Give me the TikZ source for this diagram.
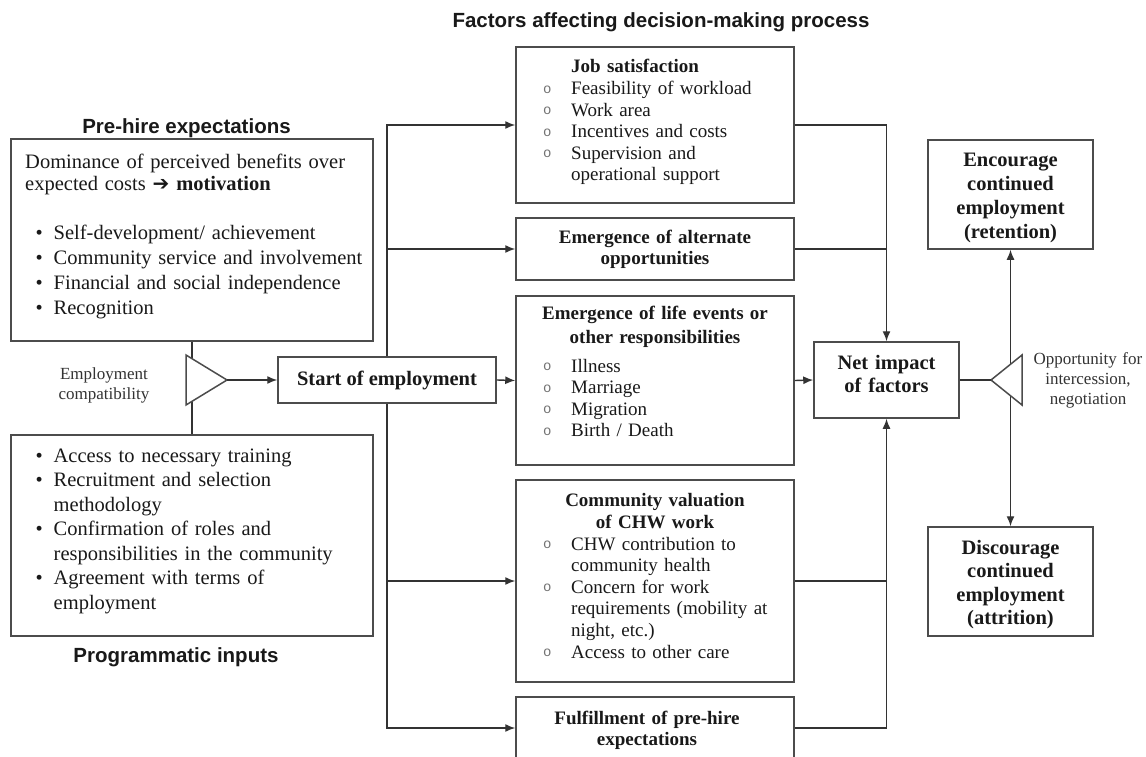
\documentclass[tikz,border=0pt]{standalone}
\usepackage{fontspec}
\setmainfont{Liberation Serif}
\newfontfamily\sansf{Liberation Sans}
\newfontfamily\monof{Liberation Mono}
\newfontfamily\dejaf{DejaVu Sans}
\usetikzlibrary{arrows.meta}
\newcommand{\bl}{\makebox[28.5pt][l]{\hspace{10.5pt}•}}
\newcommand{\ci}{\makebox[28pt][l]{\raisebox{1.5pt}{\monof\fontsize{14}{14}\selectfont\color{black!55}o}}}
\newcommand{\hind}{\hspace*{28.5pt}}
\newcommand{\cind}{\hspace*{28pt}}
\begin{document}
\begin{tikzpicture}[x=1pt,y=-1pt,
  box/.style={draw=black!70, line width=1.5pt, inner sep=0pt},
  ln/.style={draw=black!80, line width=1.4pt},
  arr/.style={ln, -{Latex[length=10pt,width=8pt]}},
  darr/.style={ln, {Latex[length=10pt,width=8pt]}-{Latex[length=10pt,width=8pt]}},
  txt/.style={inner sep=0pt, text=black!90},
  body/.style={txt, font=\fontsize{20.5}{25.3}\selectfont},
  cbody/.style={txt, font=\fontsize{19}{21.6}\selectfont},
  chead/.style={txt, font=\fontsize{19}{22}\selectfont\bfseries, align=center, text width=270pt},
  bigb/.style={txt, font=\fontsize{20.5}{23.5}\selectfont\bfseries, align=center},
  stitle/.style={txt, font=\sansf\fontsize{20.5}{24}\selectfont\bfseries},
  small/.style={txt, text=black!80, font=\fontsize{17}{20}\selectfont, align=center, text width=130pt}
]
\useasboundingbox (0,0) rectangle (1146,757);
\clip (0,0) rectangle (1146,757);
\fill[white] (0,0) rectangle (1146,757);

% titles
\node[stitle, anchor=base] (tFactors) at (661,28) {Factors affecting decision-making process};
\node[stitle, anchor=base] (tPre) at (186.5,134) {Pre-hire expectations};
\node[stitle, anchor=base] (tProg) at (176,662) {Programmatic inputs};

% left boxes
\node[box, minimum width=362pt, minimum height=202pt] (pre) at (192,240) {};
\node[body, anchor=base west, text width=345pt, align=left] (preT) at (25,168) {%
Dominance of perceived benefits over\\[-3.3pt]
expected costs {\dejaf\fontsize{20}{20}\selectfont ➔} \textbf{motivation}\\[23.7pt]
\bl Self-development/ achievement\\
\bl Community service and involvement\\
\bl Financial and social independence\\
\bl Recognition};

\node[box, minimum width=362pt, minimum height=201pt] (prog) at (192,535.5) {};
\node[body, anchor=base west, text width=345pt, align=left, font=\fontsize{20.5}{24.5}\selectfont] (progT) at (25,462) {%
\bl Access to necessary training\\
\bl Recruitment and selection\\
\hind methodology\\
\bl Confirmation of roles and\\
\hind responsibilities in the community\\
\bl Agreement with terms of\\
\hind employment};

% start of employment
\node[box, minimum width=218pt, minimum height=46pt, font=\fontsize{20.5}{24}\selectfont\bfseries, text=black!90] (start) at (387,380) {Start of employment};

% compatibility triangle
\draw[ln] (pre.south) -- (prog.north);
\coordinate (ltip) at (227,380);
\draw[box, fill=white] (186,355) -- (ltip) -- (186,405) -- cycle;
\node[small, anchor=base] (empL) at (104,379) {Employment\\compatibility};
\draw[arr] (ltip) -- (start.west);

% factor boxes
\node[box, minimum width=278pt, minimum height=156pt] (job) at (655,125) {};
\node[cbody, anchor=base west, text width=250pt, align=left] (jobT) at (543,73) {%
\cind\textbf{Job satisfaction}\\
\ci Feasibility of workload\\
\ci Work area\\
\ci Incentives and costs\\
\ci Supervision and\\
\cind operational support};

\node[box, minimum width=278pt, minimum height=62pt] (alt) at (655,249) {};
\node[chead, anchor=base, font=\fontsize{19}{21}\selectfont\bfseries] (altT) at (655,243) {Emergence of alternate\\opportunities};

\node[box, minimum width=278pt, minimum height=169pt] (life) at (655,380.5) {};
\node[chead, anchor=base, font=\fontsize{19}{24}\selectfont\bfseries] (lifeH) at (655,319) {Emergence of life events or\\other responsibilities};
\node[cbody, anchor=base west, text width=250pt, align=left] (lifeL) at (543,372) {%
\ci Illness\\
\ci Marriage\\
\ci Migration\\
\ci Birth / Death};

\node[box, minimum width=278pt, minimum height=202pt] (comm) at (655,581) {};
\node[chead, anchor=base] (commH) at (655,506) {Community valuation\\of CHW work};
\node[cbody, anchor=base west, text width=250pt, align=left] (commL) at (543,550) {%
\ci CHW contribution to\\
\cind community health\\
\ci Concern for work\\
\cind requirements (mobility at\\
\cind night, etc.)\\
\ci Access to other care};

\node[box, minimum width=278pt, minimum height=62pt] (ful) at (655,728) {};
\node[chead, anchor=base, font=\fontsize{19}{21}\selectfont\bfseries] (fulT) at (647,724) {Fulfillment of pre-hire\\expectations};

% trunk connectors
\draw[arr] (start.north) |- (job.west);
\draw[arr] (start.north) |- (alt.west);
\draw[arr] (start.east) -- (life.west);
\draw[arr] (start.south) |- (comm.west);
\draw[arr] (start.south) |- (ful.west);

% net impact
\node[box, minimum width=145pt, minimum height=76pt] (net) at (886.5,380) {};
\node[bigb, anchor=base, text width=140pt, font=\fontsize{20.5}{23}\selectfont\bfseries] (netT) at (886.5,369) {Net impact\\of factors};

\draw[arr] (job.east) -| (net.north);
\draw[ln] (alt.east) -- (alt.east -| net.north);
\draw[arr] (life.east) -- (net.west);
\draw[arr] (ful.east) -| (net.south);
\draw[ln] (comm.east) -- (comm.east -| net.south);

% outcomes
\node[box, minimum width=165pt, minimum height=109pt] (enc) at (1010.5,194.5) {};
\node[bigb, anchor=base, text width=160pt, font=\fontsize{20.5}{24}\selectfont\bfseries] (encT) at (1010.5,167) {Encourage\\continued\\employment\\(retention)};
\node[box, minimum width=165pt, minimum height=109pt] (dis) at (1010.5,581.5) {};
\node[bigb, anchor=base, text width=160pt, font=\fontsize{20.5}{23.5}\selectfont\bfseries] (disT) at (1010.5,554) {Discourage\\continued\\employment\\(attrition)};

\draw[darr] (enc.south) -- (dis.north);
\coordinate (rtip) at (991,380);
\draw[box, fill=white] (1022,355) -- (rtip) -- (1022,405) -- cycle;
\draw[ln] (net.east) -- (rtip);
\node[small, anchor=base] (oppL) at (1088,364) {Opportunity for\\intercession,\\negotiation};
\end{tikzpicture}
\end{document}
